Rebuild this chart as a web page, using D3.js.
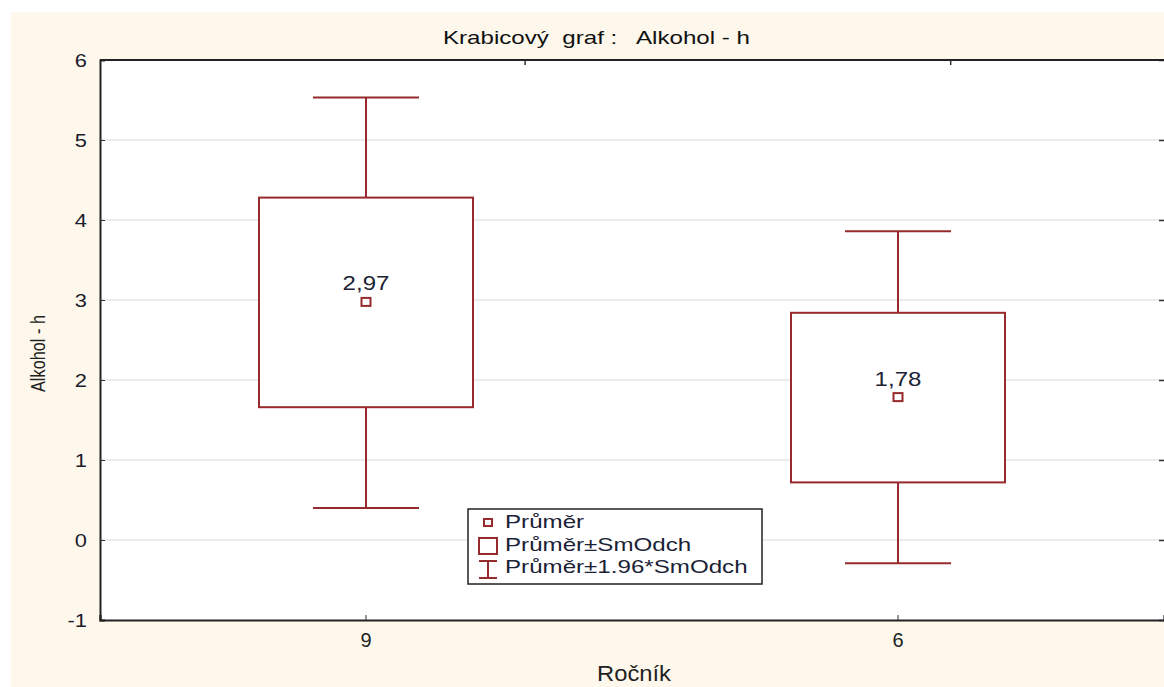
<!DOCTYPE html>
<html>
<head>
<meta charset="utf-8">
<script src="https://cdn.jsdelivr.net/npm/d3@7"></script>
<style>
  body { margin: 0; background: #ffffff; }
  text { font-family: "Liberation Sans", Arial, sans-serif; white-space: pre; }
</style>
</head>
<body>
<script>
// values
var categories = ["9", "6"];
var means = [2.97, 1.78];
var meanLabels = ["2,97", "1,78"];
var boxLow = [1.66, 0.72];      // mean - SD
var boxHigh = [4.28, 2.84];     // mean + SD
var whiskLow = [0.40, -0.29];   // mean - 1.96*SD
var whiskHigh = [5.53, 3.86];   // mean + 1.96*SD
var yTicks = [-1, 0, 1, 2, 3, 4, 5, 6];
var legendLabels = ["Průměr", "Průměr±SmOdch", "Průměr±1.96*SmOdch"];

var width = 1164, height = 687;
var red = "#962a2c";

// the screenshot is stretched sideways, so widen the text a bit
function stretch(sel, f) {
    sel.each(function() {
        var w = this.getComputedTextLength();
        d3.select(this).attr("textLength", w * f).attr("lengthAdjust", "spacingAndGlyphs");
    });
}

var svg = d3.select("body").append("svg")
    .attr("width", width)
    .attr("height", height);

// cream page background
svg.append("rect")
    .attr("x", 11).attr("y", 12)
    .attr("width", width - 11).attr("height", height - 12)
    .attr("fill", "#fef8ec");

var plotL = 100, plotR = 1164, plotT = 60, plotB = 620;

var x = d3.scaleBand()
    .domain(categories)
    .range([plotL, plotR]);

var y = d3.scaleLinear()
    .domain([-1, 6])
    .range([plotB, plotT]);

// plot area
svg.append("rect")
    .attr("x", plotL).attr("y", plotT)
    .attr("width", plotR - plotL + 2).attr("height", plotB - plotT)
    .attr("fill", "#ffffff");

// gridlines
svg.append("g")
    .selectAll("line")
    .data(yTicks.filter(function(d){ return d > -1 && d < 6; }))
    .enter().append("line")
    .attr("x1", plotL).attr("x2", plotR)
    .attr("y1", function(d){ return y(d); })
    .attr("y2", function(d){ return y(d); })
    .attr("stroke", "#d9d9d9")
    .attr("stroke-width", 1.2);

// left axis
var yAxis = d3.axisLeft(y).tickValues(yTicks).tickSize(-5).tickPadding(13)
    .tickFormat(function(d){ return String(d); });
var gy = svg.append("g")
    .attr("transform", "translate(" + plotL + ",0)")
    .call(yAxis);
gy.select(".domain").attr("stroke", "#222").attr("stroke-width", 2);
gy.selectAll(".tick line").attr("stroke", "#333");
gy.selectAll("text")
    .attr("font-size", 19)
    .attr("fill", "#1b1b2b")
    .style("font-family", "Liberation Sans, Arial, sans-serif");
stretch(gy.selectAll("text"), 1.15);

// right axis ticks
var yRight = d3.axisRight(y).tickValues(yTicks).tickSize(-5).tickFormat("");
var gyr = svg.append("g")
    .attr("transform", "translate(" + plotR + ",0)")
    .call(yRight);
gyr.select(".domain").remove();
gyr.selectAll(".tick line").attr("stroke", "#333").attr("stroke-width", 1.5);

// bottom axis
var xAxis = d3.axisBottom(x).tickSize(-5).tickPadding(13);
var gx = svg.append("g")
    .attr("transform", "translate(0," + plotB + ")")
    .call(xAxis);
gx.select(".domain").attr("stroke", "#222").attr("stroke-width", 2.2);
gx.selectAll(".tick line").attr("stroke", "#333");
gx.selectAll("text")
    .attr("font-size", 20)
    .attr("fill", "#222")
    .style("font-family", "Liberation Sans, Arial, sans-serif");

// top border with ticks
svg.append("line")
    .attr("x1", plotL).attr("x2", plotR + 2)
    .attr("y1", plotT).attr("y2", plotT)
    .attr("stroke", "#222").attr("stroke-width", 2.2);
var xTop = d3.scaleLinear().domain([0, 2]).range([plotL, plotR]);
svg.append("g")
    .selectAll("line")
    .data([0.8, 1.6])
    .enter().append("line")
    .attr("x1", function(d){ return xTop(d) - 0.5; })
    .attr("x2", function(d){ return xTop(d) - 0.5; })
    .attr("y1", plotT).attr("y2", plotT + 5)
    .attr("stroke", "#333").attr("stroke-width", 1.5);

// boxes
var idx = d3.range(categories.length);
var cx = function(i){ return x(categories[i]) + x.bandwidth() / 2; };
var boxW = 214, capW = 106;

var g = svg.append("g");

g.selectAll(".whisk")
    .data(idx).enter().append("line")
    .attr("class", "whisk")
    .attr("x1", cx).attr("x2", cx)
    .attr("y1", function(i){ return y(whiskHigh[i]); })
    .attr("y2", function(i){ return y(whiskLow[i]); })
    .attr("stroke", red).attr("stroke-width", 2);

[whiskHigh, whiskLow].forEach(function(arr){
    g.selectAll(null)
        .data(idx).enter().append("line")
        .attr("x1", function(i){ return cx(i) - capW / 2; })
        .attr("x2", function(i){ return cx(i) + capW / 2; })
        .attr("y1", function(i){ return y(arr[i]); })
        .attr("y2", function(i){ return y(arr[i]); })
        .attr("stroke", red).attr("stroke-width", 2);
});

g.selectAll(".box")
    .data(idx).enter().append("rect")
    .attr("class", "box")
    .attr("x", function(i){ return cx(i) - boxW / 2; })
    .attr("y", function(i){ return y(boxHigh[i]); })
    .attr("width", boxW)
    .attr("height", function(i){ return y(boxLow[i]) - y(boxHigh[i]); })
    .attr("fill", "#ffffff")
    .attr("stroke", red).attr("stroke-width", 2);

g.selectAll(".mean")
    .data(idx).enter().append("rect")
    .attr("class", "mean")
    .attr("x", function(i){ return cx(i) - 4.5; })
    .attr("y", function(i){ return y(means[i]) - 4.5; })
    .attr("width", 9).attr("height", 8)
    .attr("fill", "#ffffff")
    .attr("stroke", red).attr("stroke-width", 2);

var ml = g.selectAll(".meanLabel")
    .data(idx).enter().append("text")
    .attr("class", "meanLabel")
    .attr("x", cx)
    .attr("y", function(i){ return y(means[i]) - 12; })
    .attr("text-anchor", "middle")
    .attr("font-size", 20)
    .attr("fill", "#1b2236")
    .text(function(i){ return meanLabels[i]; });
stretch(ml, 1.2);

// legend
var lg = svg.append("g").attr("transform", "translate(468,509)");
lg.append("rect")
    .attr("width", 294).attr("height", 75)
    .attr("fill", "#ffffff")
    .attr("stroke", "#222").attr("stroke-width", 1.5);

lg.append("rect")
    .attr("x", 16).attr("y", 10).attr("width", 8).attr("height", 7)
    .attr("fill", "none").attr("stroke", red).attr("stroke-width", 2);
lg.append("rect")
    .attr("x", 11).attr("y", 29).attr("width", 18).attr("height", 16)
    .attr("fill", "none").attr("stroke", red).attr("stroke-width", 2);
lg.append("path")
    .attr("d", "M11,52H29M20,52V69M11,69H29")
    .attr("fill", "none").attr("stroke", red).attr("stroke-width", 2);

var lt = lg.selectAll("text")
    .data(legendLabels).enter().append("text")
    .attr("x", 37)
    .attr("y", function(d, i){ return 19 + i * 22.5; })
    .attr("font-size", 19)
    .attr("fill", "#1b2236")
    .text(function(d){ return d; });
stretch(lt, 1.27);

// titles
svg.append("text")
    .attr("x", 443).attr("y", 44)
    .attr("font-size", 19)
    .attr("fill", "#111")
    .attr("textLength", 307)
    .attr("lengthAdjust", "spacingAndGlyphs")
    .text("Krabicový  graf :   Alkohol - h");

svg.append("text")
    .attr("x", 597).attr("y", 681)
    .attr("font-size", 22)
    .attr("fill", "#222")
    .attr("textLength", 74)
    .attr("lengthAdjust", "spacingAndGlyphs")
    .text("Ročník");

svg.append("text")
    .attr("transform", "translate(45,392) rotate(-90)")
    .attr("font-size", 20)
    .attr("fill", "#222")
    .attr("textLength", 77)
    .attr("lengthAdjust", "spacingAndGlyphs")
    .text("Alkohol - h");
</script>
</body>
</html>
